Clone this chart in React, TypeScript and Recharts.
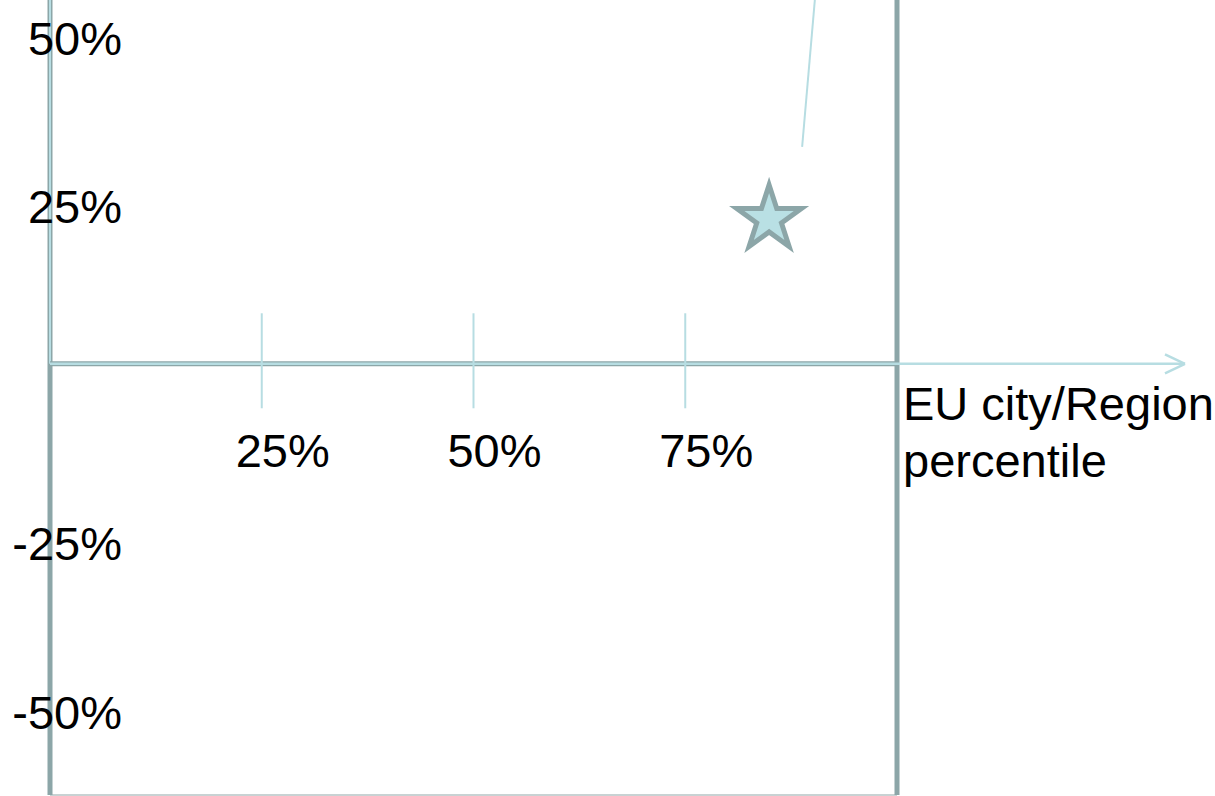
import {
  ScatterChart,
  Scatter,
  XAxis,
  YAxis,
  ReferenceLine,
  Symbols,
} from "recharts";

const FRAME = "#8ca6a8";
const LIGHT = "#b7dde2";
const FONT = "'Liberation Sans', Arial, sans-serif";

// percentile axis
const X_DOMAIN = [0, 100];
const X_TICKS = [25, 50, 75];
const X_TICK_LABELS = ["25%", "50%", "75%"];
const X_ARROW_END = 134;
const X_AXIS_TITLE = ["EU city/Region", "percentile"];

// growth axis
const Y_DOMAIN = [-64, 54];
const Y_TICKS = [50, 25, -25, -50];
const TICK_MARK_SPAN = [7.5, -6.6];

// the highlighted city
const POINT = [{ x: 84.9, y: 21.5 }];
const LEADER = [
  { x: 88.8, y: 32.2 },
  { x: 90.3, y: 54 },
];

const textStyle = { fontFamily: FONT, fontSize: 47, fill: "#000" };

function YTick(props: any) {
  const { x, y, payload } = props;
  return (
    <text x={x + 72} y={y + 28} textAnchor="end" style={textStyle}>
      {`${payload.value}%`}
    </text>
  );
}

function Star(props: any) {
  return (
    <Symbols
      type="star"
      size={1300}
      cx={props.cx}
      cy={props.cy}
      fill="#b9e0e4"
      stroke={FRAME}
      strokeWidth={5}
    />
  );
}

export default function App() {
  return (
    <div style={{ position: "absolute", left: 0, top: 0 }}>
      <ScatterChart
        width={1215}
        height={796}
        margin={{ top: 0, right: 318, bottom: 1, left: 0 }}
      >
        <XAxis type="number" dataKey="x" domain={X_DOMAIN} hide />
        <YAxis
          type="number"
          dataKey="y"
          domain={Y_DOMAIN}
          ticks={Y_TICKS}
          width={50}
          axisLine={false}
          tickLine={false}
          tickSize={0}
          tickMargin={0}
          tick={<YTick />}
        />

        {/* frame */}
        <ReferenceLine y={Y_DOMAIN[0]} stroke="#c8d2d3" strokeWidth={2} ifOverflow="visible" />
        <ReferenceLine x={X_DOMAIN[0]} stroke={FRAME} strokeWidth={5} ifOverflow="visible" />
        <ReferenceLine x={X_DOMAIN[1]} stroke={FRAME} strokeWidth={5} ifOverflow="visible" />
        <ReferenceLine
          segment={[
            { x: X_DOMAIN[0], y: 0 },
            { x: X_DOMAIN[0], y: Y_DOMAIN[1] },
          ]}
          stroke={LIGHT}
          strokeWidth={2}
          ifOverflow="visible"
        />
        <ReferenceLine
          segment={[
            { x: X_DOMAIN[0], y: 0 },
            { x: X_DOMAIN[1], y: 0 },
          ]}
          stroke={FRAME}
          strokeWidth={5}
          ifOverflow="visible"
          label={(p: any) => {
            const vb = p.viewBox;
            return (
              <text x={vb.x + vb.width + 6} y={vb.y + 56} style={textStyle}>
                <tspan x={vb.x + vb.width + 6}>{X_AXIS_TITLE[0]}</tspan>
                <tspan x={vb.x + vb.width + 6} dy={57}>
                  {X_AXIS_TITLE[1]}
                </tspan>
              </text>
            );
          }}
        />

        {/* x axis arrow */}
        <ReferenceLine
          segment={[
            { x: X_DOMAIN[0], y: 0 },
            { x: X_ARROW_END, y: 0 },
          ]}
          stroke={LIGHT}
          strokeWidth={2.5}
          ifOverflow="visible"
        />
        <ReferenceLine
          segment={[
            { x: X_ARROW_END - 2.36, y: 1.41 },
            { x: X_ARROW_END, y: 0 },
          ]}
          stroke={LIGHT}
          strokeWidth={2.5}
          ifOverflow="visible"
        />
        <ReferenceLine
          segment={[
            { x: X_ARROW_END - 2.36, y: -1.41 },
            { x: X_ARROW_END, y: 0 },
          ]}
          stroke={LIGHT}
          strokeWidth={2.5}
          ifOverflow="visible"
        />

        {X_TICKS.map((t, i) => (
          <ReferenceLine
            key={t}
            segment={[
              { x: t, y: TICK_MARK_SPAN[0] },
              { x: t, y: TICK_MARK_SPAN[1] },
            ]}
            stroke={LIGHT}
            strokeWidth={2}
            ifOverflow="visible"
            label={(p: any) => {
              const vb = p.viewBox;
              return (
                <text
                  x={vb.x + 21}
                  y={vb.y + vb.height + 59}
                  textAnchor="middle"
                  style={textStyle}
                >
                  {X_TICK_LABELS[i]}
                </text>
              );
            }}
          />
        ))}

        <ReferenceLine segment={LEADER} stroke={LIGHT} strokeWidth={2} ifOverflow="visible" />

        <Scatter data={POINT} shape={<Star />} isAnimationActive={false} />
      </ScatterChart>
    </div>
  );
}
